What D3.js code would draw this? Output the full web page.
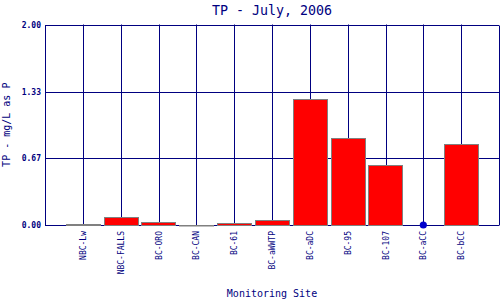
<!DOCTYPE html>
<html>
<head>
<meta charset="utf-8">
<script src="https://cdn.jsdelivr.net/npm/d3@7"></script>
<style>
  html, body { margin: 0; padding: 0; background: #fff; }
  svg { display: block; }
</style>
</head>
<body>
<svg id="chart" width="500" height="300"></svg>
<script>
const title = "TP - July, 2006";
const yTitle = "TP - mg/L as P";
const xTitle = "Monitoring Site";
const sites = ["NBC-Lw", "NBC-FALLS", "BC-ORO", "BC-CAN", "BC-61", "BC-aWWTP", "BC-aDC", "BC-95", "BC-107", "BC-aCC", "BC-bCC"];
const values = [0.005, 0.077, 0.027, 0, 0.023, 0.045, 1.254, 0.865, 0.596, null, 0.805];
const yTicks = [0, 0.67, 1.33, 2.0];
const yMax = 2.0;

const navy = "#000080";
const svg = d3.select("#chart");
const L = 45, R = 499, T = 24.5, B = 225;

const x = d3.scaleLinear().domain([0, sites.length + 1]).range([L, R]);
const y = d3.scaleLinear().domain([0, yMax]).range([B, T]);
const step = x(1) - x(0);
const bw = step * 0.9;

const g = svg.append("g");

// horizontal gridlines (top border included)
g.selectAll("line.h").data(yTicks).enter().append("line")
  .attr("x1", L).attr("x2", R)
  .attr("y1", d => Math.round(y(d)) + 0.5).attr("y2", d => Math.round(y(d)) + 0.5)
  .attr("stroke", navy).attr("stroke-width", 1);

// vertical gridlines at categories
g.selectAll("line.v").data(sites).enter().append("line")
  .attr("x1", (d, i) => Math.round(x(i + 1)) + 0.5).attr("x2", (d, i) => Math.round(x(i + 1)) + 0.5)
  .attr("y1", T).attr("y2", B)
  .attr("stroke", navy).attr("stroke-width", 1);

// left & right borders
[L, R].forEach(px => {
  g.append("line").attr("x1", px + 0.5).attr("x2", px + 0.5)
    .attr("y1", Math.round(y(yMax)) + 0.5).attr("y2", Math.round(y(0)) + 0.5)
    .attr("stroke", navy).attr("stroke-width", 1);
});

// bars
const barData = sites.map((s, i) => ({ s, i, v: values[i] })).filter(d => d.v !== null);
g.selectAll("rect.bar").data(barData).enter().append("rect")
  .attr("x", d => Math.round(x(d.i + 1) - bw / 2) + 0.5)
  .attr("width", Math.round(bw))
  .attr("y", d => Math.round(y(d.v)) + 0.5)
  .attr("height", d => Math.max(0.5, Math.round(y(0)) - Math.round(y(d.v))))
  .attr("fill", "#ff0000")
  .attr("stroke", "#808080").attr("stroke-width", 1);

// missing-value markers
const missing = sites.map((s, i) => ({ s, i, v: values[i] })).filter(d => d.v === null);
g.selectAll("circle.miss").data(missing).enter().append("circle")
  .attr("cx", d => x(d.i + 1)).attr("cy", y(0))
  .attr("r", 3.6).attr("fill", "#0000cc");

// y tick labels
g.selectAll("text.yt").data(yTicks).enter().append("text")
  .attr("x", 41).attr("y", d => y(d) + 3)
  .attr("text-anchor", "end")
  .attr("font-family", "DejaVu Sans Mono, monospace")
  .attr("font-size", 8).attr("font-weight", "bold")
  .attr("fill", navy)
  .text(d => d.toFixed(2));

// x tick labels (rotated)
g.selectAll("text.xt").data(sites).enter().append("text")
  .attr("transform", (d, i) => `translate(${x(i + 1) + 3},${231}) rotate(-90)`)
  .attr("text-anchor", "end")
  .attr("font-family", "DejaVu Sans Mono, monospace")
  .attr("font-size", 8)
  .attr("fill", navy)
  .text(d => d);

// title
svg.append("text")
  .attr("x", 272).attr("y", 15)
  .attr("text-anchor", "middle")
  .attr("font-family", "DejaVu Sans Mono, monospace")
  .attr("font-size", 13.3)
  .attr("fill", navy)
  .text(title);

// x axis title
svg.append("text")
  .attr("x", 272).attr("y", 297)
  .attr("text-anchor", "middle")
  .attr("font-family", "DejaVu Sans Mono, monospace")
  .attr("font-size", 10)
  .attr("fill", navy)
  .text(xTitle);

// y axis title
svg.append("text")
  .attr("transform", `translate(10,${(T + B) / 2}) rotate(-90)`)
  .attr("text-anchor", "middle")
  .attr("font-family", "DejaVu Sans Mono, monospace")
  .attr("font-size", 10)
  .attr("fill", navy)
  .text(yTitle);
</script>
</body>
</html>
